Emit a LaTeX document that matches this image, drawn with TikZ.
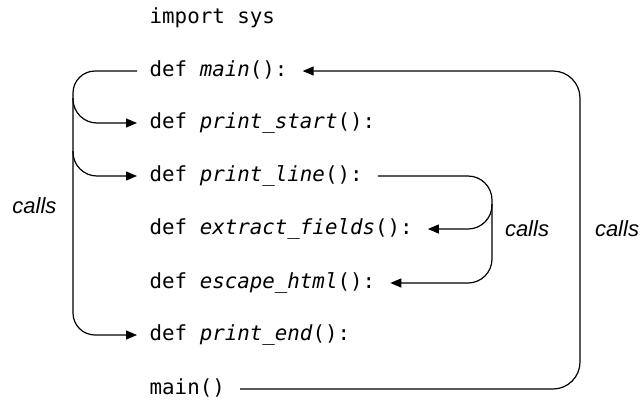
\documentclass[tikz,border=0pt]{standalone}
\usepackage{fontspec}
\setmainfont{Liberation Sans}
\setmonofont{DejaVu Sans Mono}
\usetikzlibrary{arrows.meta,calc}
\begin{document}
\begin{tikzpicture}[x=1pt,y=-1pt,
  code/.style={anchor=west,inner sep=0pt,font=\ttfamily\fontsize{20.8}{24}\selectfont,text height=15pt,text depth=4pt},
  callslbl/.style={font=\itshape\fontsize{22}{26}\selectfont,inner sep=0pt},
  conn/.style={line width=1.2pt,line join=round},
  arr/.style={conn,-{Triangle[length=11pt,width=9pt]}}]
\useasboundingbox (0,0) rectangle (642,402);

\node[code] (imp) at (149.5,18) {import sys};
\node[code] (m)   at (149.5,71) {def \textit{main}():};
\node[code] (ps)  at (149.5,123) {def \textit{print\_start}():};
\node[code] (pl)  at (149.5,176) {def \textit{print\_line}():};
\node[code] (ef)  at (149.5,229) {def \textit{extract\_fields}():};
\node[code] (eh)  at (149.5,283) {def \textit{escape\_html}():};
\node[code] (pe)  at (149.5,335) {def \textit{print\_end}():};
\node[code] (mc)  at (149.5,389) {main()};

\node[callslbl] (c1) at (34.5,206) {calls};
\node[callslbl] (c2) at (527,229) {calls};
\node[callslbl] (c3) at (617,229) {calls};

\coordinate (lx) at (73,0);
\coordinate (mx) at (492,0);
\coordinate (rx) at (580,0);

% left bracket: main calls print_start, print_line, print_end
\draw[arr,rounded corners=22pt] ([xshift=-12.5pt]m.west) -- (lx |- m.west) -- (lx |- pe.west) -- ([xshift=-12.5pt]pe.west);
\draw[arr,rounded corners=24pt] ($(lx |- ps.west)+(0,-25)$) -- (lx |- ps.west) -- ([xshift=-12.5pt]ps.west);
\draw[arr,rounded corners=24pt] ($(lx |- pl.west)+(0,-25)$) -- (lx |- pl.west) -- ([xshift=-12.5pt]pl.west);

% middle bracket: print_line calls extract_fields, escape_html
\draw[arr,rounded corners=24pt] ([xshift=15pt]pl.east) -- (mx |- pl.east) -- (mx |- eh.east) -- ([xshift=15pt]eh.east);
\draw[arr,rounded corners=24pt] ($(mx |- ef.east)+(0,-25)$) -- (mx |- ef.east) -- ([xshift=15pt]ef.east);

% right bracket: main() calls main
\draw[arr,rounded corners=27pt] ([xshift=15pt]mc.east) -- (rx |- mc.east) -- (rx |- m.east) -- ([xshift=15pt]m.east);
\end{tikzpicture}
\end{document}
